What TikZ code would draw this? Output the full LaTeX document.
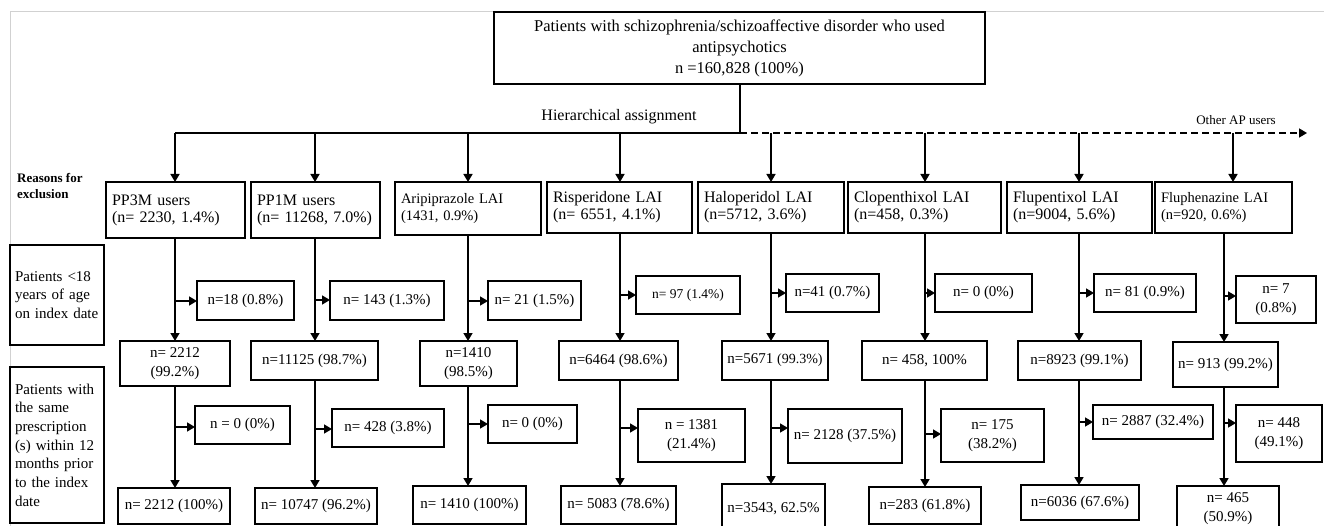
\documentclass[tikz,border=0pt]{standalone}
\usepackage{fontspec}
\setmainfont{Liberation Serif}
\usetikzlibrary{arrows.meta,calc}
\tikzset{
  box/.style={draw=black, line width=1.9pt, inner sep=0pt, outer sep=0pt, align=center, font=\fontsize{15}{19}\selectfont},
  lbox/.style={box, align=left, inner xsep=6pt, font=\fontsize{15.5}{17}\selectfont},
  sbox/.style={box, align=left, inner xsep=5pt, font=\fontsize{15}{18.7}\selectfont},
  conn/.style={line width=1.6pt, draw=black},
  arr/.style={conn, -{Triangle[length=8pt,width=9pt]}},
  darr/.style={arr, dash pattern=on 7pt off 4pt},
}
\newcommand\bx[7][]{%
  \pgfmathsetmacro\bxw{#5-#3}\pgfmathsetmacro\bxh{#6-#4}%
  \pgfmathsetmacro\bxcx{(#3+#5)/2}\pgfmathsetmacro\bxcy{(#4+#6)/2}%
  \node[box, minimum width=\bxw pt, minimum height=\bxh pt, #1] (#2) at (\bxcx,\bxcy) {#7};}
\newcommand\bxl[7][]{%
  \pgfmathsetmacro\bxw{#5-#3-12}\pgfmathsetmacro\bxh{#6-#4}%
  \pgfmathsetmacro\bxcx{(#3+#5)/2}\pgfmathsetmacro\bxcy{(#4+#6)/2}%
  \node[lbox, text width=\bxw pt, minimum height=\bxh pt, #1] (#2) at (\bxcx,\bxcy) {#7};}
\newcommand\bxs[7][]{%
  \pgfmathsetmacro\bxw{#5-#3-10}\pgfmathsetmacro\bxh{#6-#4}%
  \pgfmathsetmacro\bxcx{(#3+#5)/2}\pgfmathsetmacro\bxcy{(#4+#6)/2}%
  \node[sbox, text width=\bxw pt, minimum height=\bxh pt, #1] (#2) at (\bxcx,\bxcy) {#7};}
\begin{document}
\begin{tikzpicture}[x=1pt,y=-1pt]
\useasboundingbox (0,0) rectangle (1324,526);
\clip (0,0) rectangle (1324,526);
\fill[white] (0,0) rectangle (1324,526);
% faint frame
\draw[black!18, line width=0.8pt] (1324,11) -- (10,11) -- (10,526);

% top box
\bx[font=\fontsize{16.5}{21}\selectfont]{top}{494}{12}{985}{84}{Patients with schizophrenia/schizoaffective disorder who used\\antipsychotics\\n =160,828 (100\%)}
\node[font=\fontsize{16}{19}\selectfont] (hier) at (619,117) {Hierarchical assignment};
\node[font=\fontsize{13}{16}\selectfont] (other) at (1236,120) {Other AP users};
\node[font=\bfseries\fontsize{13}{16}\selectfont, align=left, anchor=west, inner sep=0pt] (reasons) at (17,186) {Reasons for\\exclusion};

% left labels
\bxs{lab1}{10}{245}{104}{345}{Patients <18\\years of age\\on index date}
\bxs{lab2}{10}{367}{104}{523}{Patients with\\the same\\prescription\\(s) within 12\\months prior\\to the index\\date}

% row 1
\bxl[font=\fontsize{16}{17}\selectfont]{a1}{106}{182}{245}{238}{PP3M users\\(n= 2230, 1.4\%)}
\bxl[font=\fontsize{16}{17}\selectfont]{b1}{251}{182}{380}{238}{PP1M users\\(n= 11268, 7.0\%)}
\bxl[font=\fontsize{14.5}{17}\selectfont]{c1}{395}{182}{541}{235}{Aripiprazole LAI\\(1431, 0.9\%)}
\bxl[font=\fontsize{16}{17}\selectfont]{d1}{547}{182}{692}{233}{Risperidone LAI\\(n= 6551, 4.1\%)}
\bxl[font=\fontsize{16}{17}\selectfont]{e1}{698}{182}{844}{233}{Haloperidol LAI\\(n=5712, 3.6\%)}
\bxl[font=\fontsize{16}{17}\selectfont]{f1}{848}{182}{1001}{233}{Clopenthixol LAI\\(n=458, 0.3\%)}
\bxl[font=\fontsize{16}{17}\selectfont]{g1}{1007}{182}{1152}{233}{Flupentixol LAI\\(n=9004, 5.6\%)}
\bxl[font=\fontsize{14.5}{17}\selectfont]{h1}{1155}{182}{1292}{233}{Fluphenazine LAI\\(n=920, 0.6\%)}

% row 2
\bx{a2}{197}{281}{294}{320}{n=18 (0.8\%)}
\bx{b2}{330}{281}{444}{320}{n= 143 (1.3\%)}
\bx{c2}{488}{281}{581}{320}{n= 21 (1.5\%)}
\bx[font=\fontsize{13.5}{17}\selectfont]{d2}{636}{276}{740}{314}{n= 97 (1.4\%)}
\bx{e2}{786}{274}{879}{312}{n=41 (0.7\%)}
\bx{f2}{935}{274}{1032}{312}{n= 0 (0\%)}
\bx{g2}{1094}{274}{1196}{312}{n= 81 (0.9\%)}
\bx{h2}{1236}{276}{1316}{323}{n= 7\\(0.8\%)}

% row 3
\bx{a3}{120}{341}{230}{386}{n= 2212\\(99.2\%)}
\bx{b3}{251}{341}{378}{380}{n=11125 (98.7\%)}
\bx{c3}{420}{341}{517}{386}{n=1410\\(98.5\%)}
\bx{d3}{559}{341}{678}{380}{n=6464 (98.6\%)}
\bx{e3}{722}{341}{828}{380}{n=5671 {\fontsize{14}{19}\selectfont(99.3\%)}}
\bx{f3}{862}{341}{987}{380}{n= 458, 100\%}
\bx{g3}{1018}{341}{1141}{380}{n=8923 (99.1\%)}
\bx{h3}{1173}{342}{1278}{387}{n= 913 (99.2\%)}

% row 4
\bx{a4}{195}{406}{290}{444}{n = 0 (0\%)}
\bx{b4}{332}{409}{444}{447}{n= 428 (3.8\%)}
\bx{c4}{488}{405}{577}{443}{n= 0 (0\%)}
\bx{d4}{638}{409}{745}{462}{n = 1381\\(21.4\%)}
\bx{e4}{788}{409}{902}{463}{n= 2128 (37.5\%)}
\bx{f4}{941}{409}{1044}{462}{n= 175\\(38.2\%)}
\bx{g4}{1093}{405}{1213}{439}{n= 2887 (32.4\%)}
\bx{h4}{1236}{405}{1322}{462}{n= 448\\(49.1\%)}

% row 5
\bx{a5}{118}{488}{230}{524}{n= 2212 (100\%)}
\bx{b5}{255}{488}{377}{524}{n= 10747 (96.2\%)}
\bx{c5}{413}{486}{526}{524}{n= 1410 (100\%)}
\bx{d5}{561}{486}{676}{524}{n= 5083 (78.6\%)}
\bx{e5}{722}{484}{825}{534}{n=3543, 62.5\%}
\bx{f5}{869}{487}{981}{524}{n=283 (61.8\%)}
\bx{g5}{1021}{485}{1139}{520}{n=6036 (67.6\%)}
\bx{h5}{1177}{486}{1279}{531}{n= 465\\(50.9\%)}

% distribution line
\coordinate (jn) at (740,133);
\coordinate (ca) at (175,133);
\coordinate (cb) at (315,133);
\coordinate (cc) at (468,133);
\coordinate (cd) at (620,133);
\coordinate (ce) at (771,133);
\coordinate (cf) at (925,133);
\coordinate (cg) at (1079,133);
\coordinate (ch) at (1233,133);
\coordinate (chl) at (1224,133);
\coordinate (oth) at (1307,133);
\draw[conn] (top.south -| jn) -- (jn);
\draw[conn] (jn) -- (ca);
\draw[darr] (jn) -- (oth);
\foreach \c/\n in {ca/a1,cb/b1,cc/c1,cd/d1,ce/e1,cf/f1,cg/g1,ch/h1}
  \draw[arr] (\c) -- (\c |- \n.north);

% columns
\foreach \c/\p/\q/\r in {ca/a1/a3/a5,cb/b1/b3/b5,cc/c1/c3/c5,cd/d1/d3/d5,ce/e1/e3/e5,cf/f1/f3/f5,cg/g1/g3/g5,chl/h1/h3/h5}{
  \draw[arr] (\c |- \p.south) -- (\c |- \q.north);
  \draw[arr] (\c |- \q.south) -- (\c |- \r.north);
}

% exclusion arrows
\foreach \c/\n/\y in {ca/a2/301,cb/b2/300,cc/c2/301,cd/d2/295,ce/e2/293,cf/f2/293,cg/g2/293,chl/h2/296,
                      ca/a4/427,cb/b4/429,cc/c4/424,cd/d4/428,ce/e4/428,cf/f4/434,cg/g4/422,chl/h4/423}{
  \coordinate (s\n) at ($(\c)+(0,\y-133)$);
  \draw[arr] (s\n) -- (s\n -| \n.west);
}
\end{tikzpicture}
\end{document}
